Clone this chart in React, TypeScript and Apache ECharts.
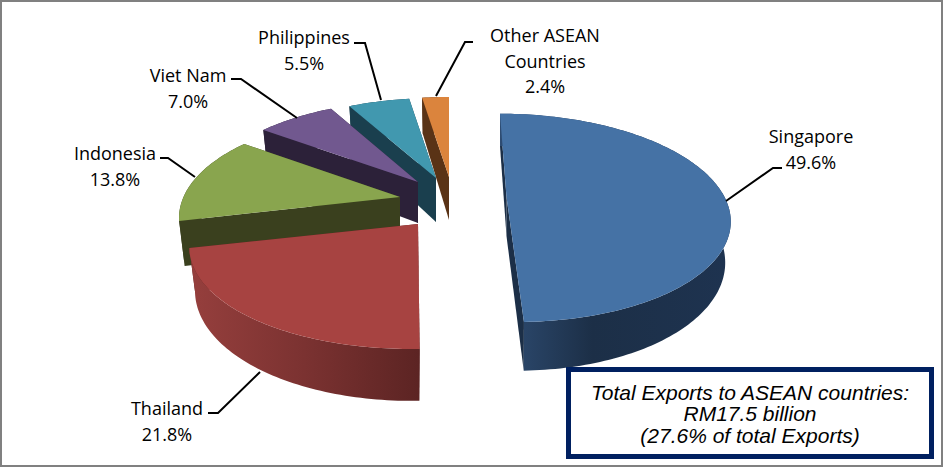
import React, { useEffect, useRef } from "react";
import * as echarts from "echarts";

const categories = ["Singapore", "Thailand", "Indonesia", "Viet Nam", "Philippines", "Other ASEAN\nCountries"];
const shares = [49.6, 21.8, 13.8, 7.0, 5.5, 2.4];

const topColors = ["#4572A5", "#A74341", "#89A54E", "#71588F", "#4198AF", "#DB843D"];
const faceColors = ["#1C2F47", "#5C2423", "#3A401E", "#2C2139", "#1A3F4E", "#5A3316"];
const wallLeft = ["#2E4C72", "#963F3D", "#3A401E", "#2C2139", "#1A3F4E", "#5A3316"];
const wallMid = ["#1C2F47", "#7B3231", "#3A401E", "#2C2139", "#1A3F4E", "#5A3316"];
const wallRight = ["#1E3350", "#5C2423", "#3A401E", "#2C2139", "#1A3F4E", "#5A3316"];
const wallMidAt = [0.4, 0.5, 0.5, 0.5, 0.5, 0.5];

// Slice projection: apex on screen, ellipse radii, lean and depth of each exploded slice.
const apexX = [506.5, 418, 400, 418, 436, 449];
const apexY = [197, 224, 197, 182, 178, 177];
const radiusX = [218, 223, 216.5, 215, 214, 215];
const radiusY = [100, 100, 100, 98, 96, 96];
const leans = [0.078, -0.05, 0, 0, 0, 0];
const depths = [39, 41.5, 43, 41, 44, 43];
const PERSPECTIVE = 0.2;
const LOWER_SHRINK = 0.975;

const labelX = [811, 167, 115, 188, 304, 545];
const labelY = [136, 408, 153, 75, 37, 35];
const labelGap = 25.5;
const leaders = [
  [[726, 201], [773, 168], [782, 168]],
  [[260, 372], [218, 413], [208, 413]],
  [[195, 177], [168, 158], [160, 158]],
  [[297, 118], [241, 79], [231, 79]],
  [[381, 100], [365, 43], [354, 43]],
  [[436, 96], [465, 42], [473, 42]],
];

const noteLines = ["Total Exports to ASEAN countries:", "RM17.5 billion", "(27.6% of total Exports)"];
const noteY = [392, 413.5, 435];

const total = shares.reduce((a, b) => a + b, 0);

function project(i: number, theta: number, lower: boolean): number[] {
  const U = Math.sin(theta);
  const V = -Math.cos(theta);
  const d = 1 - PERSPECTIVE * V;
  const s = lower ? LOWER_SHRINK : 1;
  const x = apexX[i] + (s * radiusX[i] * U) / d + (leans[i] * radiusY[i] * V) / d;
  const y = apexY[i] + (radiusY[i] * V + (lower ? depths[i] : 0)) / d;
  return [x, y];
}

function arc(i: number, a: number, b: number, lower: boolean): number[][] {
  const n = Math.max(4, Math.ceil(Math.abs(b - a) / 0.02));
  const pts: number[][] = [];
  for (let k = 0; k <= n; k++) pts.push(project(i, a + ((b - a) * k) / n, lower));
  return pts;
}

function renderSlice(params: any, api: any) {
  const i = params.dataIndex;
  const a = (api.value(1) / total) * Math.PI * 2;
  const b = (api.value(2) / total) * Math.PI * 2;
  const apex = [apexX[i], apexY[i]];
  const apexLow = [apexX[i], apexY[i] + depths[i]];
  const base = (categories.length - i) * 10;
  const poly = (points: number[][], fill: any, z2: number) => ({
    type: "polygon",
    z2,
    silent: true,
    shape: { points },
    style: { fill, stroke: "none" },
  });
  return {
    type: "group",
    children: [
      poly([project(i, b, false), apex, apexLow, project(i, b, true)], faceColors[i], base),
      poly([project(i, a, false), apex, apexLow, project(i, a, true)], faceColors[i], base + 1),
      poly(
        [...arc(i, a, b, false), ...arc(i, b, a, true)],
        new echarts.graphic.LinearGradient(0, 0, 1, 0, [
          { offset: 0, color: wallLeft[i] },
          { offset: wallMidAt[i], color: wallMid[i] },
          { offset: 1, color: wallRight[i] },
        ]),
        base + 2,
      ),
      poly([apex, ...arc(i, a, b, false)], topColors[i], base + 3),
    ],
  };
}

export default function App() {
  const ref = useRef<HTMLDivElement>(null);
  useEffect(() => {
    const chart = echarts.init(ref.current!, undefined, { renderer: "svg" });
    let run = 0;
    const sliceData = shares.map((v) => {
      const row = [v, run, run + v];
      run += v;
      return row;
    });
    const font = '"Open Sans", sans-serif';
    const graphics: any[] = [
      {
        type: "rect",
        z: 1,
        shape: { x: 1, y: 1, width: 941, height: 465 },
        style: { fill: "none", stroke: "#808080", lineWidth: 2 },
      },
    ];
    categories.forEach((name, i) => {
      graphics.push({
        type: "polyline",
        z: 50,
        shape: { points: leaders[i] },
        style: { fill: "none", stroke: "#000000", lineWidth: 2 },
      });
      const lines = [...name.split("\n"), shares[i].toFixed(1) + "%"];
      lines.forEach((t, k) => {
        graphics.push({
          type: "text",
          z: 50,
          x: labelX[i],
          y: labelY[i] + k * labelGap,
          style: { text: t, fill: "#000000", font: `18px ${font}`, textAlign: "center", textVerticalAlign: "middle" },
        });
      });
    });
    graphics.push({
      type: "rect",
      z: 60,
      shape: { x: 568.5, y: 369.5, width: 363, height: 87 },
      style: { fill: "#FFFFFF", stroke: "#002060", lineWidth: 5 },
    });
    noteLines.forEach((t, k) => {
      graphics.push({
        type: "text",
        z: 61,
        x: 750,
        y: noteY[k],
        style: {
          text: t,
          fill: "#000000",
          font: 'italic 21px "Liberation Sans", Arial, sans-serif',
          textAlign: "center",
          textVerticalAlign: "middle",
        },
      });
    });
    chart.setOption({
      animation: false,
      backgroundColor: "#FFFFFF",
      graphic: { elements: graphics },
      series: [
        {
          type: "custom",
          coordinateSystem: "none",
          renderItem: renderSlice,
          data: sliceData,
          silent: true,
          z: 10,
        },
      ],
    });
    return () => chart.dispose();
  }, []);
  return <div ref={ref} style={{ position: "fixed", left: 0, top: 0, width: 944, height: 468 }} />;
}
